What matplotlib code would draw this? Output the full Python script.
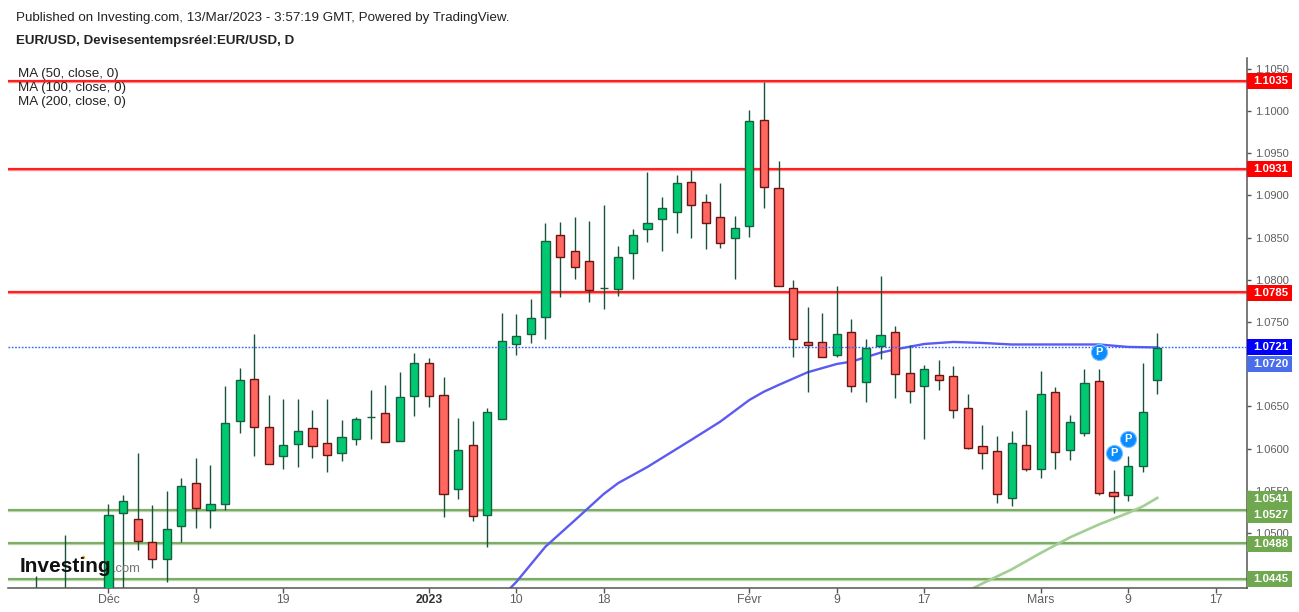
import numpy as np
from matplotlib import pyplot as plt
from matplotlib.lines import Line2D
from matplotlib.patches import Rectangle

plt.rcParams['font.family'] = ['Liberation Sans', 'DejaVu Sans']

# daily candles, trading day number counted from 1 Dec
days = [-5, -3] + list(range(73))
opens = [1.0425, 1.0425,
    1.04207, 1.05234, 1.05163, 1.04891, 1.04689, 1.05080, 1.05590, 1.05270, 1.05341, 1.06324,
    1.06822, 1.06253, 1.05910, 1.06052, 1.06241, 1.06064, 1.05945, 1.06111, 1.06372, 1.06419,
    1.06087, 1.06621, 1.07011, 1.06632, 1.05519, 1.06040, 1.05211, 1.06351, 1.07244, 1.07355,
    1.07563, 1.08528, 1.08338, 1.08220, 1.07903, 1.07895, 1.08323, 1.08599, 1.08717, 1.08800,
    1.09156, 1.08919, 1.08741, 1.08492, 1.08634, 1.09889, 1.09085, 1.07900, 1.07261, 1.07261,
    1.07107, 1.07379, 1.06787, 1.07220, 1.07379, 1.06893, 1.06739, 1.06870, 1.06858, 1.06479,
    1.06028, 1.05969, 1.05412, 1.06040, 1.05756, 1.06668, 1.05981, 1.06182, 1.06799, 1.05483,
    1.05448, 1.05791, 1.06810]
highs = [1.04492, 1.04977,
    1.05345, 1.05451, 1.05945, 1.05333, 1.05499, 1.05653, 1.05886, 1.05807, 1.06743, 1.06956,
    1.07359, 1.06636, 1.06589, 1.06589, 1.06458, 1.06589, 1.06340, 1.06375, 1.06695, 1.06754,
    1.06908, 1.07134, 1.07074, 1.06849, 1.06363, 1.06328, 1.06482, 1.07607, 1.07595, 1.07773,
    1.08674, 1.08686, 1.08745, 1.08697, 1.08887, 1.08401, 1.08602, 1.09281, 1.08982, 1.09242,
    1.09301, 1.09017, 1.09147, 1.08756, 1.10012, 1.10345, 1.09408, 1.07998, 1.07678, 1.07607,
    1.07927, 1.07536, 1.07300, 1.08045, 1.07450, 1.07229, 1.06992, 1.07051, 1.06980, 1.06648,
    1.06281, 1.06150, 1.06209, 1.06458, 1.06921, 1.06731, 1.06399, 1.06944, 1.06944, 1.05747,
    1.05913, 1.07015, 1.07371]
lows = [1.0410, 1.0410,
    1.04089, 1.04267, 1.04803, 1.04590, 1.04424, 1.04898, 1.05064, 1.05064, 1.05274, 1.06189,
    1.05917, 1.05815, 1.05763, 1.05787, 1.05893, 1.05727, 1.05858, 1.06047, 1.06118, 1.06076,
    1.06087, 1.06391, 1.06497, 1.05194, 1.05407, 1.05147, 1.04839, 1.06351, 1.07110, 1.07252,
    1.07300, 1.07800, 1.08010, 1.07741, 1.07658, 1.07809, 1.08010, 1.08449, 1.08342, 1.08555,
    1.08496, 1.08365, 1.08377, 1.08010, 1.08508, 1.08851, 1.07923, 1.07087, 1.06672, 1.07083,
    1.07087, 1.06672, 1.06557, 1.07066, 1.06604, 1.06545, 1.06118, 1.06699, 1.06367, 1.05993,
    1.05763, 1.05360, 1.05324, 1.05739, 1.05656, 1.05763, 1.05869, 1.06154, 1.05455, 1.05242,
    1.05384, 1.05727, 1.06652]
closes = [1.0430, 1.0430,
    1.05214, 1.05377, 1.04903, 1.04689, 1.05045, 1.05554, 1.05294, 1.05341, 1.06301, 1.06810,
    1.06253, 1.05815, 1.06040, 1.06206, 1.06028, 1.05922, 1.06135, 1.06348, 1.06372, 1.06076,
    1.06609, 1.07011, 1.06621, 1.05460, 1.05981, 1.05199, 1.06431, 1.07272, 1.07331, 1.07544,
    1.08457, 1.08274, 1.08149, 1.07876, 1.07903, 1.08267, 1.08536, 1.08670, 1.08848, 1.09144,
    1.08883, 1.08670, 1.08433, 1.08611, 1.09879, 1.09096, 1.07923, 1.07296, 1.07225, 1.07083,
    1.07355, 1.06743, 1.07189, 1.07343, 1.06881, 1.06680, 1.06941, 1.06810, 1.06455, 1.06005,
    1.05945, 1.05460, 1.06064, 1.05756, 1.06645, 1.05957, 1.06313, 1.06775, 1.05471, 1.05436,
    1.05791, 1.06431, 1.07189]

ma50_days = [27, 28, 30, 32, 34, 35, 37, 40, 42, 44, 45, 46, 48, 50, 51, 53, 54, 56, 58, 60, 62, 64, 66, 68, 70, 72]
ma50 = [1.04243, 1.04421, 1.04839, 1.05149, 1.05463, 1.05593, 1.05783, 1.06103, 1.06320, 1.06577, 1.06675, 1.06754,
        1.06905, 1.07003, 1.07031, 1.07137, 1.07175, 1.07240, 1.07264, 1.07252, 1.07234, 1.07234, 1.07234, 1.07234,
        1.07205, 1.07199]
ma100_days = [59, 60, 62, 64, 66, 68, 70, 71, 72]
ma100 = [1.04314, 1.04403, 1.04569, 1.04764, 1.04948, 1.05102, 1.05238, 1.05315, 1.05416]

red_levels = [1.1035, 1.0931, 1.0785]
green_levels = [1.0527, 1.0488, 1.0445]
last_price = 1.0721

pivot_days = [68, 69, 70]
pivot_prices = [1.07146, 1.05945, 1.06111]

price_ticks = [1.1050, 1.1000, 1.0950, 1.0900, 1.0850, 1.0800, 1.0750, 1.0700, 1.0650, 1.0600, 1.0550, 1.0500]
date_ticks = [0, 6, 12, 22, 28, 34, 44, 50, 56, 64, 70, 76]
date_labels = ['Déc', '9', '19', '2023', '10', '18', 'Févr', '9', '17', 'Mars', '9', '17']

# text, where the tag sits on the scale, tag colour
tag_texts = ['1.1035', '1.0931', '1.0785', '1.0721', '1.0720', '1.0541', '1.0527', '1.0488', '1.0445']
tag_prices = [1.1035, 1.0931, 1.0784, 1.0721, 1.07003, 1.05404, 1.05214, 1.04871, 1.0445]
tag_colors = ['#FF0000', '#FF0000', '#FF0000', '#0000FF', '#4A6DEB', '#6FA84F', '#6FA84F', '#6FA84F', '#6FA84F']

W, H = 1299, 612
GREY = '#5E5E5E'

fig = plt.figure(figsize=(W / 100, H / 100), dpi=100)
ax = fig.add_axes([8 / W, 1 - 588 / H, 1239 / W, 530 / H])
ax.set_xlim(-6.899, 78.16)
ax.set_ylim(1.04349, 1.10628)

for spine in ['left', 'top']:
    ax.spines[spine].set_visible(False)
for spine in ['right', 'bottom']:
    ax.spines[spine].set_color('#555555')
    ax.spines[spine].set_linewidth(1.1)

# horizontal levels, with the pale halo they have in the original
for level in red_levels:
    ax.axhline(level, color='#FF8A8A', lw=2.4, zorder=1)
    ax.axhline(level, color='#FF0000', lw=1.1, zorder=1.1)
for level in green_levels:
    ax.axhline(level, color='#B5D6A5', lw=2.4, zorder=1)
    ax.axhline(level, color='#6E9E55', lw=1.1, zorder=1.1)

ax.plot(ma100_days, ma100, color='#A3CE94', lw=1.9, zorder=1.5)
ax.plot(ma50_days, ma50, color='#5B5BF2', lw=1.7, zorder=1.5)

days_arr = np.array(days)
o = np.array(opens)
c = np.array(closes)
up = c >= o
ax.vlines(days_arr, lows, highs, color='#17533A', lw=1.0, zorder=2)
ax.bar(days_arr[up], (c - o)[up], bottom=o[up], width=0.56, color='#00C972',
       edgecolor='#17603F', linewidth=1.0, zorder=3)
ax.bar(days_arr[~up], (c - o)[~up], bottom=o[~up], width=0.56, color='#FF675F',
       edgecolor='#6A1414', linewidth=1.0, zorder=3)

ax.axhline(last_price, color='#2F62F5', lw=1.0, ls=(0, (1.2, 1.2)), zorder=4)

ax.scatter(pivot_days, pivot_prices, s=135, color='#0A8CFF', edgecolor='#7CC0FF', linewidth=0.8, zorder=5)
for d, p in zip(pivot_days, pivot_prices):
    ax.text(d, p, 'P', color='white', fontsize=8, fontweight='bold', ha='center', va='center', zorder=6)

ax.yaxis.tick_right()
ax.set_yticks(price_ticks)
ax.set_yticklabels([f'{t:.4f}' for t in price_ticks])
ax.tick_params(axis='y', length=3, width=1, color='#555555', labelcolor=GREY, labelsize=8.0, pad=2.5)
ax.set_xticks(date_ticks)
ax.set_xticklabels(date_labels)
ax.tick_params(axis='x', length=3.5, width=1, color='#555555', labelcolor=GREY, labelsize=8.8, pad=1)
year_label = ax.get_xticklabels()[3]
year_label.set_fontweight('bold')
year_label.set_color('#333333')

# coloured price tags over the scale
yaxis_tr = ax.get_yaxis_transform()
tag_h = 16 / 8441
for text, price, color in zip(tag_texts, tag_prices, tag_colors):
    ax.add_patch(Rectangle((1.0, price - tag_h / 2), 45 / 1239, tag_h, transform=yaxis_tr, color=color,
                           lw=0, clip_on=False, zorder=7))
    ax.text(1 + 6 / 1239, price, text, transform=yaxis_tr, color='white', fontsize=8.2, fontweight='bold',
            va='center', ha='left', clip_on=False, zorder=8)

fig.text(16 / W, 1 - 18 / H, 'Published on Investing.com, 13/Mar/2023 - 3:57:19 GMT, Powered by TradingView.',
         fontsize=9.6, color='#222222', va='center')
fig.text(16 / W, 1 - 41 / H, 'EUR/USD, Devisesentempsréel:EUR/USD, D', fontsize=9.6, fontweight='bold',
         color='#222222', va='center')
for label, y in zip(['MA (50, close, 0)', 'MA (100, close, 0)', 'MA (200, close, 0)'], [74.5, 88.5, 101.5]):
    fig.text(18 / W, 1 - y / H, label, fontsize=9.6, color='#222222', va='center', zorder=9)

# logo
fig.text(20 / W, 1 - 572 / H, 'Investing', fontsize=15, fontweight='bold', color='#111111', va='baseline', zorder=9)
fig.text(113 / W, 1 - 572 / H, '.com', fontsize=9.4, color='#777777', va='baseline', zorder=9)
fig.add_artist(Line2D([82.5 / W], [1 - 557 / H], marker='o', ms=2.5, color='#F5A623', mew=0, transform=fig.transFigure))

fig.savefig('out.png', dpi=100)
plt.close(fig)
